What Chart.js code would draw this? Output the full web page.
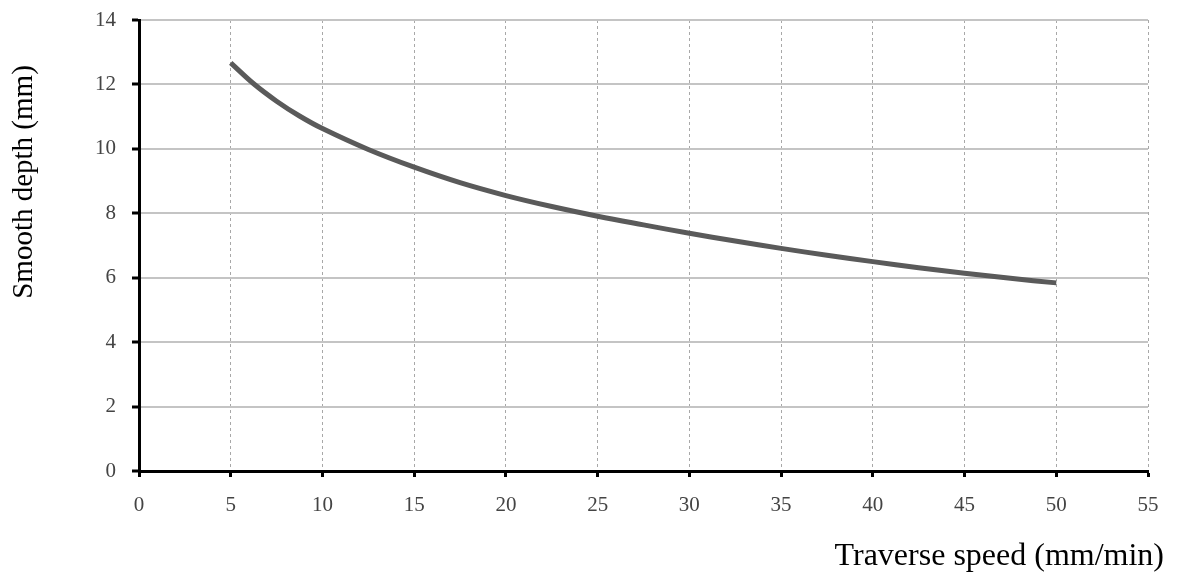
<!DOCTYPE html>
<html>
<head>
<meta charset="utf-8">
<script src="https://cdn.jsdelivr.net/npm/chart.js@4"></script>
<style>
  html, body { margin: 0; padding: 0; background: #fff; }
  #wrap { width: 1185px; height: 573px; }
</style>
</head>
<body>
<div id="wrap"><canvas id="chartDepth"></canvas></div>
<script>
// values
const speeds = [5, 6.25, 7.5, 8.75, 10, 12.5, 15, 17.5, 20, 22.5, 25, 27.5, 30, 32.5, 35, 37.5, 40, 42.5, 45, 47.5, 50];
const depths = [12.67, 12.02, 11.48, 11.02, 10.63, 9.98, 9.43, 8.95, 8.55, 8.21, 7.91, 7.64, 7.38, 7.14, 6.91, 6.70, 6.50, 6.31, 6.14, 5.98, 5.84];
const xTitle = "Traverse speed (mm/min)";
const yTitle = "Smooth depth (mm)";

const serif = "'Liberation Serif', 'DejaVu Serif', serif";

// axis titles sit off-centre in the original, so they are drawn here
const titlesPlugin = {
    id: "titles",
    afterDraw(chart) {
        const ctx = chart.ctx;
        ctx.save();
        ctx.fillStyle = "#000";
        ctx.textBaseline = "middle";
        ctx.font = "32px " + serif;
        ctx.textAlign = "right";
        ctx.fillText(xTitle, 1164, 557);
        ctx.translate(24, 182);
        ctx.rotate(-Math.PI / 2);
        ctx.font = "29px " + serif;
        ctx.textAlign = "center";
        ctx.fillText(yTitle, 0, 0);
        ctx.restore();
    },
};

const ctx = document.getElementById("chartDepth");

new Chart(ctx, {
    type: "line",
    data: {
        datasets: [
            {
                data: speeds.map((s, i) => ({ x: s, y: depths[i] })),
                borderColor: "#5a5a5a",
                borderWidth: 5,
                pointRadius: 0,
                tension: 0.4,
                fill: false,
            },
        ],
    },
    options: {
        responsive: true,
        maintainAspectRatio: false,
        animation: false,
        layout: { padding: { top: 20, right: 37, left: 0, bottom: 0 } },
        plugins: {
            legend: { display: false },
            tooltip: { enabled: false },
        },
        scales: {
            x: {
                type: "linear",
                min: 0,
                max: 55,
                ticks: {
                    stepSize: 5,
                    padding: 16,
                    color: "#444",
                    font: { family: serif, size: 21 },
                },
                grid: {
                    color: "#a8a8a8",
                    lineWidth: 1,
                    tickLength: 6,
                    tickColor: "#000",
                    tickWidth: 3,
                },
                border: { color: "#000", width: 3, dash: [3, 3] },
                afterFit(scale) {
                    scale.height = 102;
                    scale.paddingLeft = 0;
                    scale.paddingRight = 0;
                },
            },
            y: {
                min: 0,
                max: 14,
                ticks: {
                    stepSize: 2,
                    padding: 16,
                    color: "#444",
                    font: { family: serif, size: 21 },
                },
                grid: {
                    color: "#c4c4c4",
                    lineWidth: 2,
                    tickLength: 7,
                    tickColor: "#000",
                    tickWidth: 3,
                },
                border: { color: "#000", width: 3 },
                afterFit(scale) {
                    scale.width = 139;
                    scale.paddingTop = 0;
                    scale.paddingBottom = 0;
                },
            },
        },
    },
    plugins: [titlesPlugin],
});
</script>
</body>
</html>
